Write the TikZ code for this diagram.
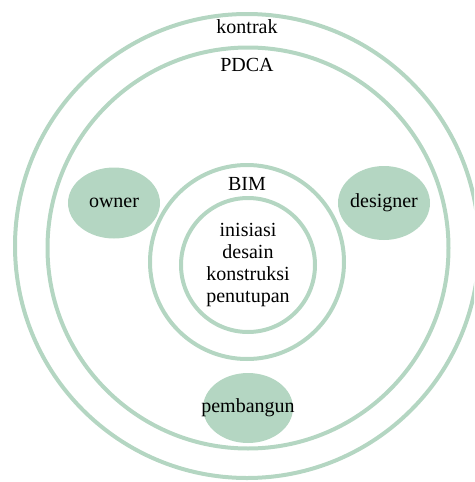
\documentclass[tikz,border=0pt]{standalone}
\usepackage{fontspec}
\setmainfont{Liberation Serif}
\usetikzlibrary{shapes.geometric}
\definecolor{sage}{RGB}{180,214,194}
\tikzset{
  ring/.style={circle, draw=sage, line width=4pt, inner sep=0pt},
  actor/.style={ellipse, fill=sage, inner sep=0pt, minimum width=92pt, minimum height=71pt},
  lbl/.style={font=\fontsize{20}{22}\selectfont, inner sep=0pt, align=center}
}
\begin{document}
\begin{tikzpicture}[x=1pt, y=-1pt]
  \useasboundingbox (0,0) rectangle (474,482);
  \clip (0,0) rectangle (474,482);
  % nested rings
  \node[ring, minimum size=464pt] (kontrak) at (247,246) {};
  \node[ring, minimum size=401pt] (pdca) at (248,248) {};
  \node[ring, minimum size=194pt] (bim) at (247,262) {};
  \node[ring, minimum size=134pt] (fase) at (248,265) {};
  % ring labels
  \node[lbl] (tkontrak) at (247,27) {kontrak};
  \node[lbl] (tpdca) at (247,65) {PDCA};
  \node[lbl] (tbim) at (247,184) {BIM};
  \node[lbl] (tfase) at (248,265) {inisiasi\\desain\\konstruksi\\penutupan};
  % stakeholders
  \node[actor] (owner) at (114,203) {};
  \node[lbl] at (owner) {owner};
  \node[actor, minimum height=74pt] (designer) at (384,203) {};
  \node[lbl] at (designer) {designer};
  \node[actor, minimum width=90pt, minimum height=70pt] (pembangun) at (248,408) {};
  \node[lbl] at (pembangun) {pembangun};
\end{tikzpicture}
\end{document}
